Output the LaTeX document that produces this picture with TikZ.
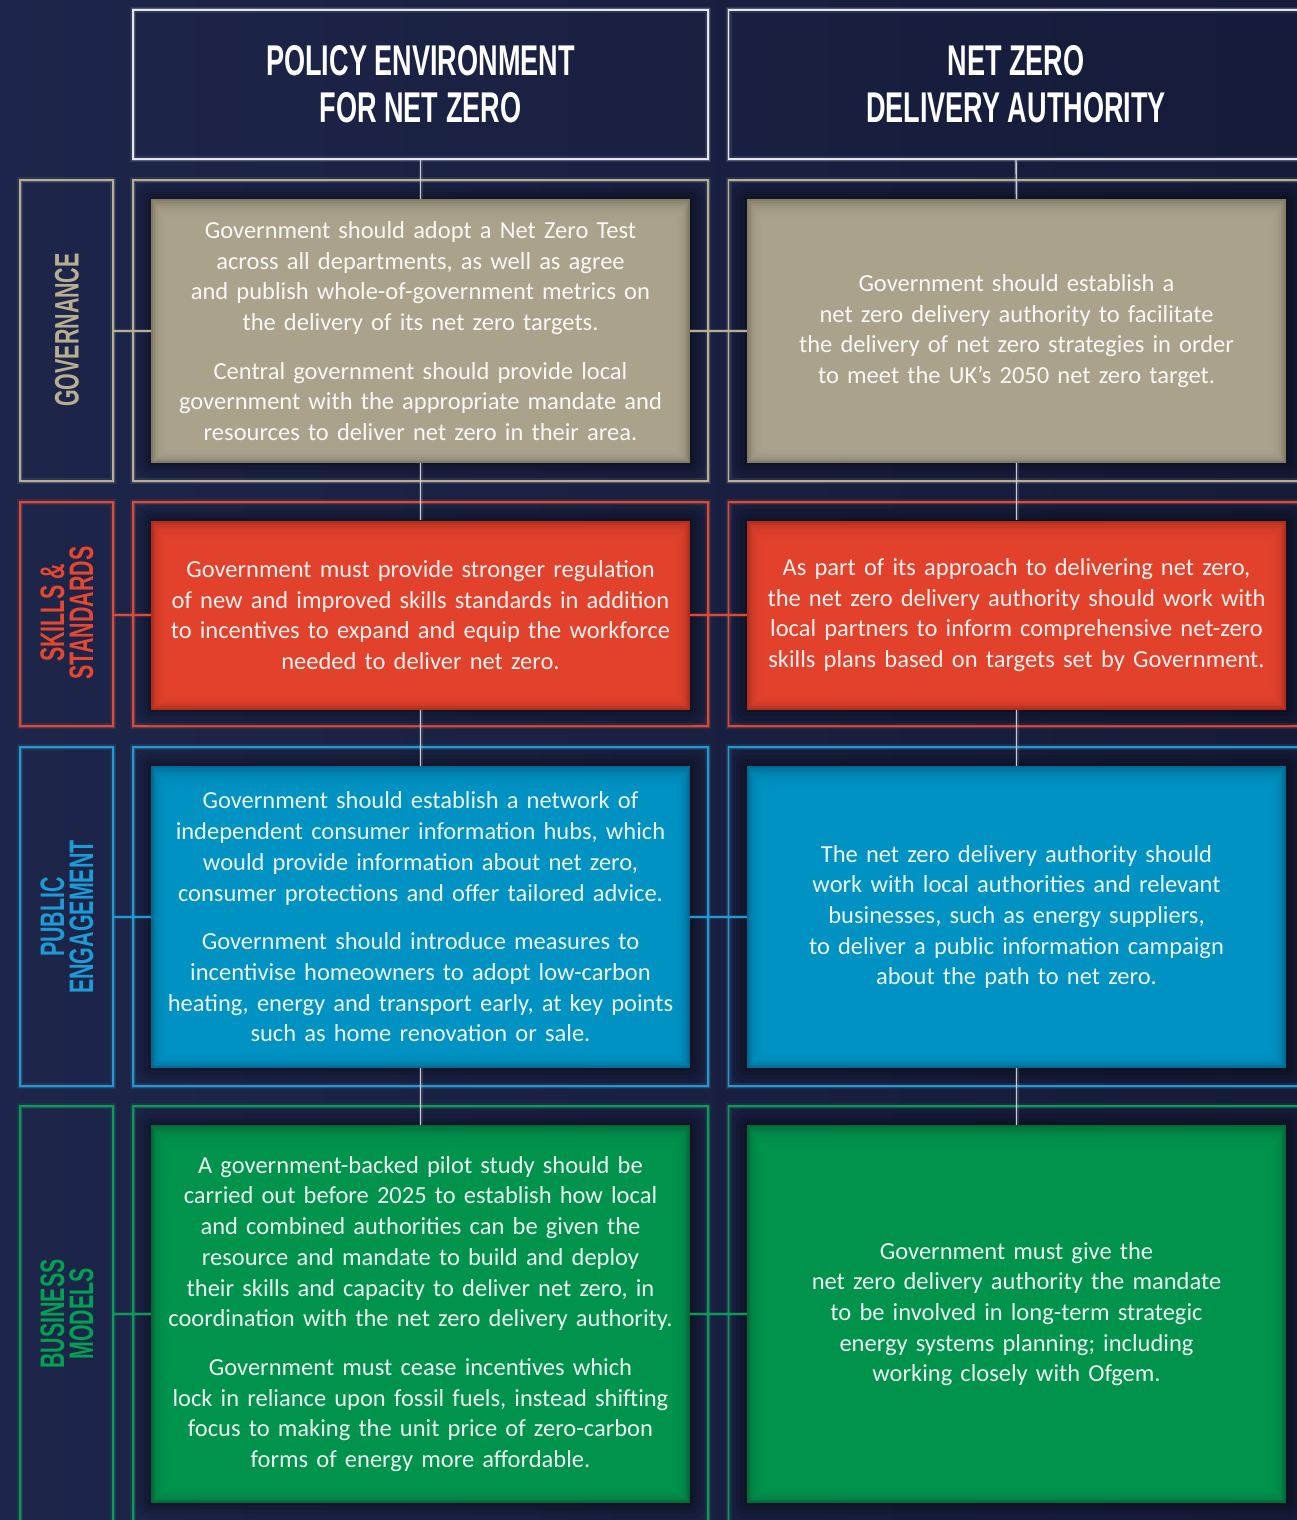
\documentclass[tikz,border=0pt]{standalone}
\usepackage{fontspec}
\setmainfont{Carlito}[WordSpace=0.9]
\newfontfamily\headfont{Liberation Sans}[FakeStretch=0.63]
\usetikzlibrary{shadows.blur}

\definecolor{bgA}{HTML}{1D254A}
\definecolor{bgB}{HTML}{151B38}
\definecolor{headline}{HTML}{E6E7EE}
\definecolor{govC}{HTML}{ADA58E}
\definecolor{govD}{HTML}{827B66}
\definecolor{govL}{HTML}{B8AF92}
\definecolor{skC}{HTML}{E5442E}
\definecolor{skD}{HTML}{B02E1E}
\definecolor{skL}{HTML}{E5472F}
\definecolor{puC}{HTML}{0095C5}
\definecolor{puD}{HTML}{006A92}
\definecolor{puL}{HTML}{1B9CD6}
\definecolor{buC}{HTML}{00964F}
\definecolor{buD}{HTML}{006B38}
\definecolor{buL}{HTML}{00A152}
\definecolor{spine}{HTML}{C9CBD6}

\tikzset{
  frame/.style={draw=#1, line width=1.3pt,
    preaction={draw=#1!70!white, line width=6pt, draw opacity=0.10},
    preaction={draw=#1!80!white, line width=3pt, draw opacity=0.22}},
  headbox/.style={frame=headline, minimum width=575pt, minimum height=149pt,
    align=center, text=white,
    font=\headfont\bfseries\fontsize{43}{47}\selectfont},
  labelbox/.style={frame=#1, minimum width=93pt},
  colframe/.style={frame=#1, minimum width=575pt},
  tag/.style={rotate=90, align=center, text=#1,
    font=\headfont\bfseries\fontsize{34}{29}\selectfont},
  % #1 = edge tone, #2 = face tone
  card/.style 2 args={fill=#1, minimum width=539pt, inner sep=0pt,
    text width=535pt, align=center, text=white!92!#2,
    font=\fontsize{24.5}{30.7}\selectfont,
    blur shadow={shadow xshift=0pt, shadow yshift=0pt,
      shadow blur radius=16pt, shadow opacity=75},
    path picture={
      \foreach \k in {1,...,10}
        \fill[#2, fill opacity=0.3]
          ([shift={({\k*1.8pt},{-\k*2.4pt})}]path picture bounding box.north west)
          rectangle
          ([shift={({-\k*1.8pt},{\k*1.6pt})}]path picture bounding box.south east);
    }},
  link/.style={draw=#1, line width=1.4pt,
    preaction={draw=#1!70!white, line width=4pt, draw opacity=0.15}}
}

\begin{document}
\begin{tikzpicture}[x=1pt,y=-1pt]
\useasboundingbox (0,0) rectangle (1297,1520);
\clip (0,0) rectangle (1297,1520);
\shade[left color=bgA, right color=bgB] (0,0) rectangle (1297,1520);

% column headings
\node[headbox] (h1) at (420.5,84.5) {POLICY ENVIRONMENT\\FOR NET ZERO};
\node[headbox] (h2) at (1016,84.5) {NET ZERO\\DELIVERY AUTHORITY};

% row frames
\node[labelbox=govL, minimum height=301pt] (lgov) at (66.5,330.5) {};
\node[colframe=govL, minimum height=301pt] (fgov1) at (420.5,330.5) {};
\node[colframe=govL, minimum height=301pt] (fgov2) at (1016,330.5) {};

\node[labelbox=skL, minimum height=224pt] (lsk) at (66.5,614) {};
\node[colframe=skL, minimum height=224pt] (fsk1) at (420.5,614) {};
\node[colframe=skL, minimum height=224pt] (fsk2) at (1016,614) {};

\node[labelbox=puL, minimum height=339pt] (lpu) at (66.5,916.5) {};
\node[colframe=puL, minimum height=339pt] (fpu1) at (420.5,916.5) {};
\node[colframe=puL, minimum height=339pt] (fpu2) at (1016,916.5) {};

\node[labelbox=buL, minimum height=440pt] (lbu) at (66.5,1326) {};
\node[colframe=buL, minimum height=440pt] (fbu1) at (420.5,1326) {};
\node[colframe=buL, minimum height=440pt] (fbu2) at (1016,1326) {};

% row tags
\node[tag=govL] (tgov) at (67,330) {GOVERNANCE};
\node[tag=skL] (tsk) at (67,613) {SKILLS \&\\STANDARDS};
\node[tag=puL] (tpu) at (67,917) {PUBLIC\\ENGAGEMENT};
\node[tag=buL] (tbu) at (67,1314) {BUSINESS\\MODELS};

% recommendation cards
\node[card={govD}{govC}, minimum height=264pt] (gov1) at (420.5,331) {%
  Government should adopt a Net Zero Test\\
  across all departments, as well as agree\\
  and publish whole-of-government metrics on\\
  the delivery of its net zero targets.\\[18pt]
  Central government should provide local\\
  government with the appropriate mandate and\\
  resources to deliver net zero in their area.};
\node[card={govD}{govC}, minimum height=264pt] (gov2) at (1016.5,331) {%
  Government should establish a\\
  net zero delivery authority to facilitate\\
  the delivery of net zero strategies in order\\
  to meet the UK’s 2050 net zero target.};

\node[card={skD}{skC}, minimum height=189pt] (sk1) at (420.5,615) {%
  Government must provide stronger regulation\\
  of new and improved skills standards in addition\\
  to incentives to expand and equip the workforce\\
  needed to deliver net zero.};
\node[card={skD}{skC}, minimum height=189pt] (sk2) at (1016.5,615) {%
  As part of its approach to delivering net zero,\\
  the net zero delivery authority should work with\\
  local partners to inform comprehensive net-zero\\
  skills plans based on targets set by Government.};

\node[card={puD}{puC}, minimum height=302pt] (pu1) at (420.5,917) {%
  Government should establish a network of\\
  independent consumer information hubs, which\\
  would provide information about net zero,\\
  consumer protections and offer tailored advice.\\[18pt]
  Government should introduce measures to\\
  incentivise homeowners to adopt low-carbon\\
  heating, energy and transport early, at key points\\
  such as home renovation or sale.};
\node[card={puD}{puC}, minimum height=302pt] (pu2) at (1016.5,917) {%
  The net zero delivery authority should\\
  work with local authorities and relevant\\
  businesses, such as energy suppliers,\\
  to deliver a public information campaign\\
  about the path to net zero.};

\node[card={buD}{buC}, minimum height=378pt] (bu1) at (420.5,1314) {%
  A government-backed pilot study should be\\
  carried out before 2025 to establish how local\\
  and combined authorities can be given the\\
  resource and mandate to build and deploy\\
  their skills and capacity to deliver net zero, in\\
  coordination with the net zero delivery authority.\\[18pt]
  Government must cease incentives which\\
  lock in reliance upon fossil fuels, instead shifting\\
  focus to making the unit price of zero-carbon\\
  forms of energy more affordable.};
\node[card={buD}{buC}, minimum height=378pt] (bu2) at (1016.5,1314) {%
  Government must give the\\
  net zero delivery authority the mandate\\
  to be involved in long-term strategic\\
  energy systems planning; including\\
  working closely with Ofgem.};

% vertical spines under each heading
\draw[link=spine] (h1.south) -- (gov1.north);
\draw[link=spine] (gov1.south) -- (sk1.north);
\draw[link=spine] (sk1.south) -- (pu1.north);
\draw[link=spine] (pu1.south) -- (bu1.north);
\draw[link=spine] (h2.south) -- (gov2.north);
\draw[link=spine] (gov2.south) -- (sk2.north);
\draw[link=spine] (sk2.south) -- (pu2.north);
\draw[link=spine] (pu2.south) -- (bu2.north);

% row links
\draw[link=govL] (lgov.east |- gov1.west) -- (gov1.west);
\draw[link=govL] (gov1.east) -- (gov2.west);
\draw[link=skL] (lsk.east |- sk1.west) -- (sk1.west);
\draw[link=skL] (sk1.east) -- (sk2.west);
\draw[link=puL] (lpu.east |- pu1.west) -- (pu1.west);
\draw[link=puL] (pu1.east) -- (pu2.west);
\draw[link=buL] (lbu.east |- bu1.west) -- (bu1.west);
\draw[link=buL] (bu1.east) -- (bu2.west);
\end{tikzpicture}
\end{document}
